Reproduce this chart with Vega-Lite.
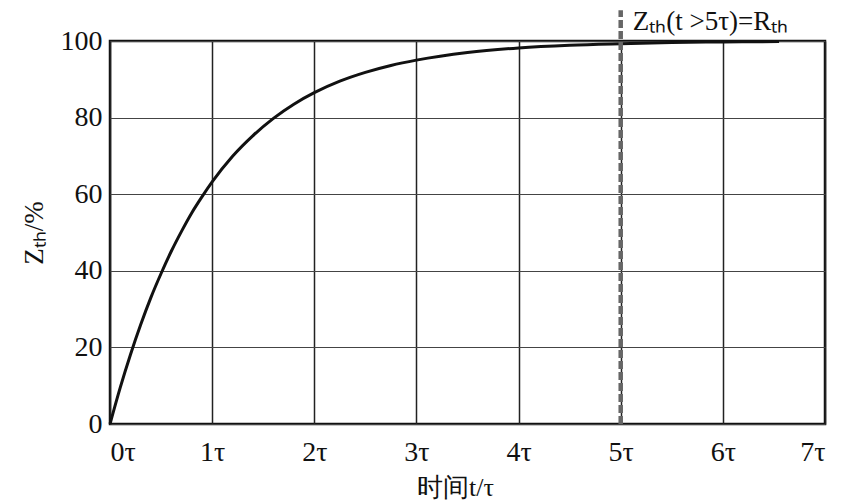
{
  "$schema": "https://vega.github.io/schema/vega-lite/v6.json",
  "width": 715,
  "height": 383,
  "autosize": {"type": "none"},
  "padding": {"left": 110, "top": 41, "right": 37, "bottom": 80},
  "background": "white",
  "config": {
    "view": {"stroke": "#111", "strokeWidth": 2.5},
    "font": "Liberation Serif",
    "axis": {"labelFont": "Liberation Serif", "titleFont": "Liberation Serif", "labelColor": "#111", "titleColor": "#111", "titleFontWeight": "normal"}
  },
  "datasets": {
    "curve": [
      {"t": 0, "z": 0}, {"t": 0.1, "z": 9.5}, {"t": 0.2, "z": 18.1}, {"t": 0.3, "z": 25.9},
      {"t": 0.4, "z": 33.0}, {"t": 0.5, "z": 39.3}, {"t": 0.6, "z": 45.1}, {"t": 0.7, "z": 50.3},
      {"t": 0.8, "z": 55.1}, {"t": 0.9, "z": 59.3}, {"t": 1.0, "z": 63.2}, {"t": 1.2, "z": 69.9},
      {"t": 1.4, "z": 75.3}, {"t": 1.6, "z": 79.8}, {"t": 1.8, "z": 83.5}, {"t": 2.0, "z": 86.5},
      {"t": 2.25, "z": 89.5}, {"t": 2.5, "z": 91.8}, {"t": 2.75, "z": 93.6}, {"t": 3.0, "z": 95.0},
      {"t": 3.5, "z": 97.0}, {"t": 4.0, "z": 98.2}, {"t": 4.5, "z": 98.9}, {"t": 5.0, "z": 99.3},
      {"t": 5.5, "z": 99.6}, {"t": 6.0, "z": 99.75}, {"t": 6.55, "z": 99.85}
    ],
    "marker": [{"t": 5, "z0": 0, "z1": 108, "label": "Zₜₕ(t >5τ)=Rₜₕ", "ly": 100}]
  },
  "layer": [
    {
      "data": {"name": "curve"},
      "mark": {"type": "line", "color": "#111", "strokeWidth": 3, "interpolate": "monotone"},
      "encoding": {
        "x": {
          "field": "t", "type": "quantitative",
          "scale": {"domain": [0, 7], "nice": false},
          "axis": {
            "values": [0, 1, 2, 3, 4, 5, 6, 7],
            "labelExpr": "datum.value + 'τ'",
            "labelFontSize": 28, "labelPadding": 14, "ticks": false, "domain": false,
            "grid": true, "gridColor": "#222", "gridWidth": 1.5,
            "title": "时间t/τ", "titleFontSize": 26, "titlePadding": 8, "titleX": 345
          }
        },
        "y": {
          "field": "z", "type": "quantitative",
          "scale": {"domain": [0, 100], "nice": false},
          "axis": {
            "values": [0, 10, 20, 30, 40, 50, 60, 70, 80, 90, 100],
            "labelExpr": "datum.value % 20 == 0 ? datum.value : ''",
            "labelFontSize": 28, "labelPadding": 8, "ticks": false, "domain": false,
            "grid": true, "gridColor": "#444", "gridWidth": 1.2,
            "title": "Zₜₕ/%", "titleFontSize": 27, "titlePadding": 12
          }
        }
      }
    },
    {
      "data": {"name": "marker"},
      "mark": {"type": "rule", "color": "#666", "strokeWidth": 4.5, "strokeDash": [8, 3], "clip": false},
      "encoding": {
        "x": {"field": "t", "type": "quantitative"},
        "y": {"field": "z0", "type": "quantitative"},
        "y2": {"field": "z1"}
      }
    },
    {
      "data": {"name": "marker"},
      "mark": {"type": "text", "fontSize": 27, "font": "Liberation Serif", "align": "left", "baseline": "bottom", "dx": 12, "dy": -5, "color": "#111"},
      "encoding": {
        "x": {"field": "t", "type": "quantitative"},
        "y": {"field": "ly", "type": "quantitative"},
        "text": {"field": "label"}
      }
    }
  ]
}
